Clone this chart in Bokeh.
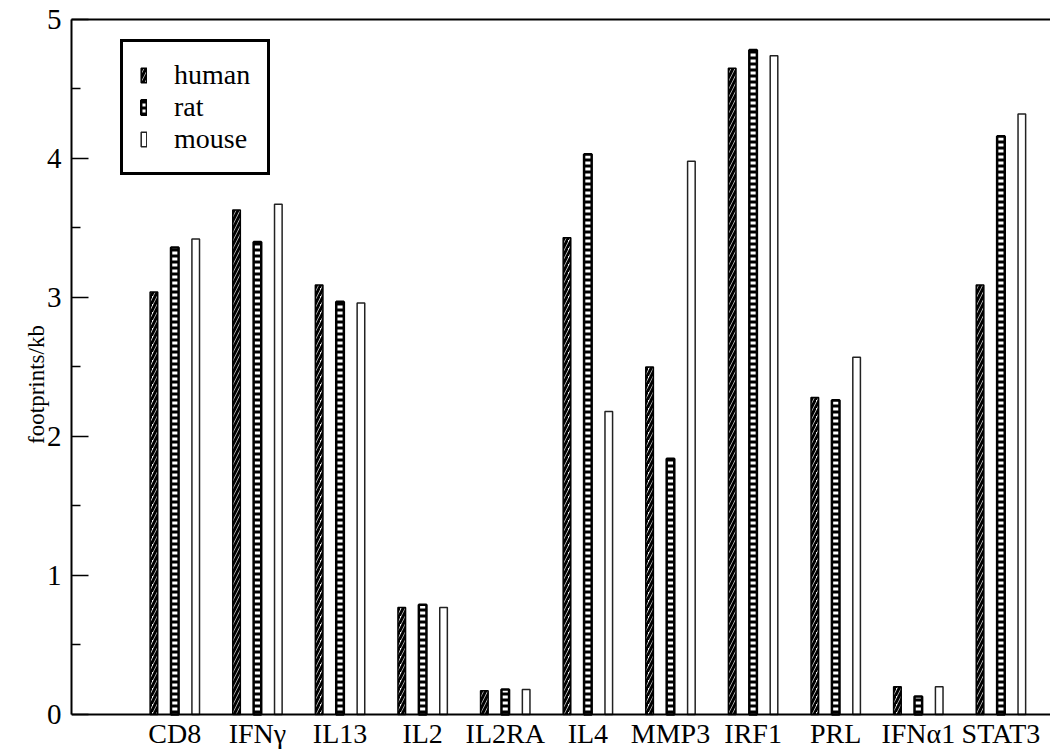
from bokeh.plotting import figure
from bokeh.models import Range1d, FixedTicker, LinearAxis, Legend, LegendItem, ColumnDataSource, Span
from bokeh.core.properties import value
from bokeh.transform import dodge
from bokeh.embed import file_html
from bokeh.resources import INLINE

genes = ["CD8", "IFNγ", "IL13", "IL2", "IL2RA", "IL4", "MMP3", "IRF1", "PRL", "IFNα1", "STAT3"]
human = [3.04, 3.63, 3.09, 0.77, 0.17, 3.43, 2.50, 4.65, 2.28, 0.20, 3.09]
rat = [3.36, 3.40, 2.97, 0.79, 0.18, 4.03, 1.84, 4.78, 2.26, 0.13, 4.16]
mouse = [3.42, 3.67, 2.96, 0.77, 0.18, 2.18, 3.98, 4.74, 2.57, 0.20, 4.32]
y_ticks = [0, 1, 2, 3, 4, 5]

pos = list(range(1, len(genes) + 1))
src = ColumnDataSource(dict(x=pos, gene=genes, human=human, rat=rat, mouse=mouse))

FONT = "Liberation Serif"

p = figure(width=1050, height=749, output_backend="svg", toolbar_location=None,
           x_range=Range1d(-0.2506, 11.60), y_range=Range1d(-0.2522, 5),
           min_border_left=71, min_border_top=19, min_border_bottom=0, min_border_right=0)
p.outline_line_color = None
p.grid.visible = False
p.background_fill_color = "white"

bw = 0.092
off = 0.253
r_h = p.vbar(x=dodge("x", -off), top="human", bottom=0, width=bw, source=src,
             fill_color="white", line_color="black", line_width=1.5,
             hatch_pattern="/", hatch_color="black", hatch_weight=3, hatch_scale=8)
r_r = p.vbar(x=dodge("x", 0.0), top="rat", bottom=0, width=bw, source=src,
             fill_color="white", line_color="black", line_width=2.5,
             hatch_pattern="-", hatch_color="black", hatch_weight=3, hatch_scale=6)
r_m = p.vbar(x=dodge("x", off), top="mouse", bottom=0, width=bw, source=src,
             fill_color="white", line_color="#222222", line_width=1.5)

# x axis: baseline at 0 and category names under it
p.xaxis.visible = False
p.add_layout(Span(location=0, dimension="width", line_color="black", line_width=2))
p.text(x="x", y=0, text="gene", source=src, y_offset=4,
       text_align="center", text_baseline="top",
       text_font=value(FONT), text_font_size="28px", text_color="black")

# y axis
ya = p.yaxis[0]
ya.bounds = (0, 5)
ya.ticker = FixedTicker(ticks=y_ticks, minor_ticks=[0.5, 1.5, 2.5, 3.5, 4.5])
ya.major_tick_in = 17
ya.major_tick_out = 0
ya.minor_tick_in = 9
ya.minor_tick_out = 0
ya.major_tick_line_width = 1.5
ya.minor_tick_line_width = 1.5
ya.axis_line_width = 2
ya.axis_line_color = "black"
ya.major_label_text_font = FONT
ya.major_label_text_font_size = "29px"
ya.major_label_text_color = "black"
ya.major_label_standoff = 10
ya.axis_label = "footprints/kb"
ya.axis_label_text_font = FONT
ya.axis_label_text_font_size = "23px"
ya.axis_label_text_font_style = "normal"
ya.axis_label_text_color = "black"
ya.axis_label_standoff = -5

# top border line only
top = LinearAxis(ticker=FixedTicker(ticks=[]),
                 major_tick_in=0, major_tick_out=0, minor_tick_in=0, minor_tick_out=0,
                 major_label_standoff=0, axis_line_width=2, axis_line_color="black")
p.add_layout(top, "above")

legend = Legend(items=[LegendItem(label="human", renderers=[r_h]),
                       LegendItem(label="rat", renderers=[r_r]),
                       LegendItem(label="mouse", renderers=[r_m])],
                location=(49, 539 + 35),
                label_text_font=FONT, label_text_font_size="28px", label_text_color="black",
                glyph_width=7, glyph_height=18, label_standoff=27,
                padding=17, spacing=-1, margin=0,
                border_line_width=3, border_line_color="black", border_line_alpha=1.0,
                background_fill_color="white", background_fill_alpha=1.0)
p.add_layout(legend, "center")

open("out.html", "w").write(file_html(p, INLINE))
